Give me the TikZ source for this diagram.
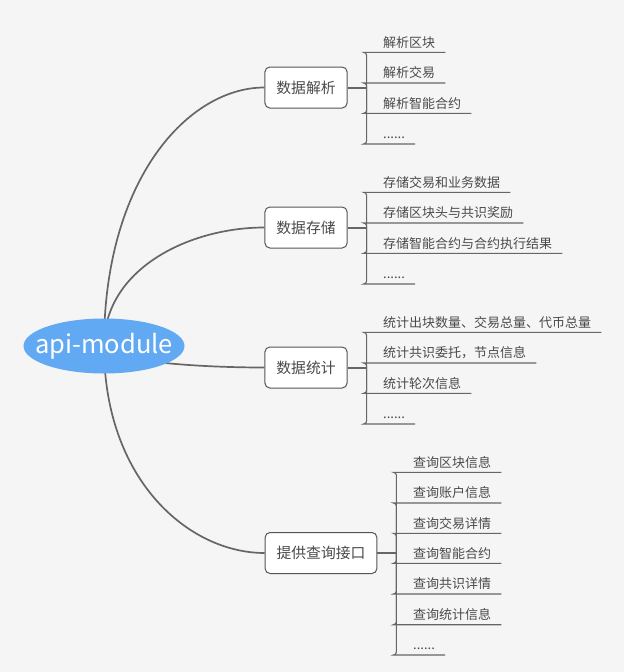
\documentclass[tikz,border=0pt]{standalone}
\usepackage{fontspec}
\setmainfont{Noto Sans CJK SC}
\usetikzlibrary{shapes.geometric,calc}
\definecolor{bgc}{HTML}{F5F5F5}
\definecolor{rootblue}{HTML}{62A9F4}
\definecolor{linegray}{HTML}{666666}
\definecolor{boxgray}{HTML}{555555}
\definecolor{txt}{HTML}{4A4A4A}
\pgfdeclarelayer{back}
\pgfsetlayers{back,main}
\tikzset{
  rootnode/.style={ellipse, fill=rootblue, minimum width=161pt, minimum height=55pt, inner xsep=-12pt, inner ysep=0pt, text=white, font=\fontsize{25.5}{28}\selectfont},
  branchbox/.style={draw=boxgray, fill=white, rounded corners=5pt, line width=1pt, minimum height=41pt, inner xsep=11.5pt, inner ysep=0pt, text=txt, font=\fontsize{14.8}{17}\selectfont},
  leafnode/.style={inner sep=0pt, anchor=south west, text=txt, font=\fontsize{13}{15}\selectfont, text height=10pt, text depth=5pt, execute at begin node=\hspace*{17pt}, execute at end node=\hspace*{10pt}},
  leafline/.style={draw=linegray, line width=1.1pt, rounded corners=3pt},
  stubline/.style={draw=linegray, line width=2pt},
  rootline/.style={draw=linegray, line width=1.7pt}
}
\newcommand{\rootcurve}[2]{\draw[rootline] (#1.center) .. controls ($(#1.center)!0.65!(#1.center |- #2.west)$) and ($(#2.west)!0.47!(#1.center |- #2.west)$) .. (#2.west);}
\begin{document}
\begin{tikzpicture}[x=1pt,y=-1pt]
\begin{pgfonlayer}{back}
\fill[bgc] (0,0) rectangle (624,672);
\end{pgfonlayer}
\useasboundingbox (0,0) rectangle (624,672);

\node[rootnode] (root) at (104,346) {api-module};

\node[branchbox] (b1) at (306,87.5) {数据解析};
\node[branchbox] (b2) at (306,227.5) {数据存储};
\node[branchbox] (b3) at (306,367.5) {数据统计};
\node[branchbox] (b4) at (321,553) {提供查询接口};

\begin{pgfonlayer}{back}
\rootcurve{root}{b1}
\rootcurve{root}{b2}
\rootcurve{root}{b3}
\rootcurve{root}{b4}
\end{pgfonlayer}

\coordinate (j1) at ($(b1.east)+(19,0)$);
\coordinate (j2) at ($(b2.east)+(19,0)$);
\coordinate (j3) at ($(b3.east)+(19,0)$);
\coordinate (j4) at ($(b4.east)+(19,0)$);
\draw[stubline] (b1.east) -- (j1);
\draw[stubline] (b2.east) -- (j2);
\draw[stubline] (b3.east) -- (j3);
\draw[stubline] (b4.east) -- (j4);

% group 1
\node[leafnode] (l11) at (366,52.3) {解析区块};
\node[leafnode] (l12) at (366,83) {解析交易};
\node[leafnode] (l13) at (366,113.3) {解析智能合约};
\node[leafnode] (l14) at (366,144) {......};
\foreach \n in {l11,l12,l13,l14} {\draw[leafline] (j1) |- (\n.south west) -- (\n.south east);}

% group 2
\node[leafnode] (l21) at (366,192.3) {存储交易和业务数据};
\node[leafnode] (l22) at (366,223) {存储区块头与共识奖励};
\node[leafnode] (l23) at (366,253.3) {存储智能合约与合约执行结果};
\node[leafnode] (l24) at (366,284) {......};
\foreach \n in {l21,l22,l23,l24} {\draw[leafline] (j2) |- (\n.south west) -- (\n.south east);}

% group 3
\node[leafnode] (l31) at (366,332.3) {统计出块数量、交易总量、代币总量};
\node[leafnode] (l32) at (366,363) {统计共识委托，节点信息};
\node[leafnode] (l33) at (366,393.3) {统计轮次信息};
\node[leafnode] (l34) at (366,424) {......};
\foreach \n in {l31,l32,l33,l34} {\draw[leafline] (j3) |- (\n.south west) -- (\n.south east);}

% group 4
\node[leafnode] (l41) at (396,472.3) {查询区块信息};
\node[leafnode] (l42) at (396,503) {查询账户信息};
\node[leafnode] (l43) at (396,533.3) {查询交易详情};
\node[leafnode] (l44) at (396,563.3) {查询智能合约};
\node[leafnode] (l45) at (396,594) {查询共识详情};
\node[leafnode] (l46) at (396,624.7) {查询统计信息};
\node[leafnode] (l47) at (396,655) {......};
\foreach \n in {l41,l42,l43,l44,l45,l46,l47} {\draw[leafline] (j4) |- (\n.south west) -- (\n.south east);}
\end{tikzpicture}
\end{document}
